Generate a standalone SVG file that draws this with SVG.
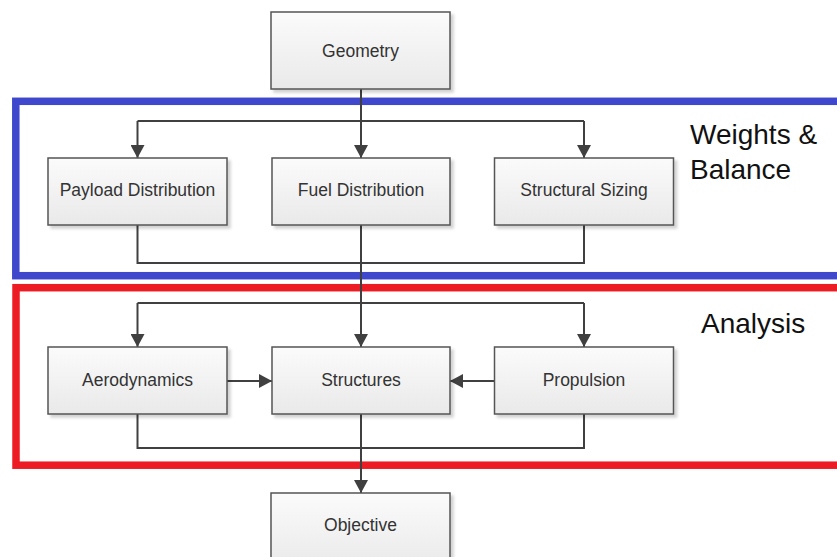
<svg xmlns="http://www.w3.org/2000/svg" width="837" height="557" viewBox="0 0 837 557">
  <defs>
    <linearGradient id="boxfill" x1="0" y1="0" x2="0" y2="1">
      <stop offset="0" stop-color="#fbfbfb"/>
      <stop offset="1" stop-color="#e9e9e9"/>
    </linearGradient>
    <marker id="arrow" viewBox="0 0 13 14" markerWidth="13" markerHeight="14" refX="13" refY="7" orient="auto" markerUnits="userSpaceOnUse">
      <path d="M0,0 L13,7 L0,14 z" fill="#404040"/>
    </marker>
    <filter id="shadow" x="-10%" y="-10%" width="130%" height="130%">
      <feGaussianBlur in="SourceAlpha" stdDeviation="1.5"/>
      <feOffset dx="3" dy="3" result="b"/>
      <feComponentTransfer><feFuncA type="linear" slope="0.18"/></feComponentTransfer>
      <feMerge><feMergeNode/><feMergeNode in="SourceGraphic"/></feMerge>
    </filter>
  </defs>
  <style>
    .box { fill: url(#boxfill); stroke: #555555; stroke-width: 1.5; filter: url(#shadow); }
    .lbl { font-family: "Liberation Sans", Arial, sans-serif; font-size: 17.5px; fill: #333333; text-anchor: middle; }
    .title { font-family: "Liberation Sans", Arial, sans-serif; font-size: 28px; fill: #111111; }
    .conn { fill: none; stroke: #404040; stroke-width: 2; }
    .frame { fill: none; stroke-width: 7.5; }
  </style>
  <rect width="837" height="557" fill="#ffffff"/>

  <g id="frames">
    <rect id="weights-frame" class="frame" x="15.8" y="101.3" width="840" height="174.4" stroke="#3f48cc"/>
    <rect id="analysis-frame" class="frame" x="16" y="287.7" width="840" height="177.5" stroke="#ed1c24"/>
    <text class="title" x="690" y="144">Weights &amp;</text>
    <text class="title" x="690" y="179">Balance</text>
    <text class="title" x="701" y="333">Analysis</text>
  </g>

  <g id="connectors">
    <path class="conn" d="M137.5,121 H584"/>
    <path class="conn" d="M361,89 V158" marker-end="url(#arrow)"/>
    <path class="conn" d="M137.5,121 V158" marker-end="url(#arrow)"/>
    <path class="conn" d="M584,121 V158" marker-end="url(#arrow)"/>
    <path class="conn" d="M137.5,225 V263 H584 V225"/>
    <path class="conn" d="M361,225 V347" marker-end="url(#arrow)"/>
    <path class="conn" d="M137.5,303 H584"/>
    <path class="conn" d="M137.5,303 V347" marker-end="url(#arrow)"/>
    <path class="conn" d="M584,303 V347" marker-end="url(#arrow)"/>
    <path class="conn" d="M227,381 H272" marker-end="url(#arrow)"/>
    <path class="conn" d="M494,381 H450" marker-end="url(#arrow)"/>
    <path class="conn" d="M137.5,414 V448 H584 V414"/>
    <path class="conn" d="M361,414 V493" marker-end="url(#arrow)"/>
  </g>

  <g id="geometry">
    <rect class="box" x="271" y="12" width="179" height="77"/>
    <text class="lbl" x="360.5" y="57">Geometry</text>
  </g>
  <g id="payload-distribution">
    <rect class="box" x="48" y="158" width="179" height="67"/>
    <text class="lbl" x="137.5" y="196">Payload Distribution</text>
  </g>
  <g id="fuel-distribution">
    <rect class="box" x="272" y="158" width="178" height="67"/>
    <text class="lbl" x="361" y="196">Fuel Distribution</text>
  </g>
  <g id="structural-sizing">
    <rect class="box" x="494.5" y="158" width="179" height="67"/>
    <text class="lbl" x="584" y="196">Structural Sizing</text>
  </g>
  <g id="aerodynamics">
    <rect class="box" x="48" y="347" width="179" height="67"/>
    <text class="lbl" x="137.5" y="386">Aerodynamics</text>
  </g>
  <g id="structures">
    <rect class="box" x="272" y="347" width="178" height="67"/>
    <text class="lbl" x="361" y="386">Structures</text>
  </g>
  <g id="propulsion">
    <rect class="box" x="494.5" y="347" width="179" height="67"/>
    <text class="lbl" x="584" y="386">Propulsion</text>
  </g>
  <g id="objective">
    <rect class="box" x="271" y="493" width="179" height="77"/>
    <text class="lbl" x="360.5" y="531">Objective</text>
  </g>
</svg>
